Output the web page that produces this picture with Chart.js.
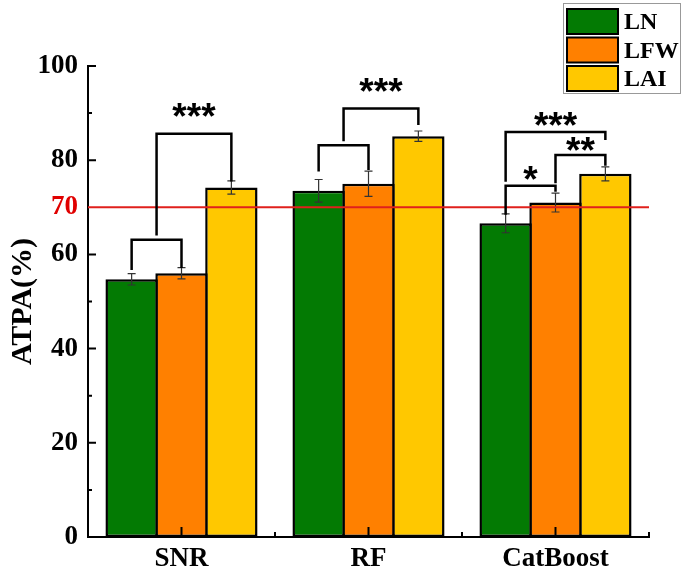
<!DOCTYPE html>
<html>
<head>
<meta charset="utf-8">
<script src="https://cdn.jsdelivr.net/npm/chart.js@4.4.0/dist/chart.umd.min.js"></script>
<style>
body { margin: 0; background: #fff; }
</style>
</head>
<body>
<canvas id="chart" width="685" height="575"></canvas>
<script>
const categories = ['SNR', 'RF', 'CatBoost'];
const seriesNames = ['LN', 'LFW', 'LAI'];
const seriesColors = ['#037a03', '#ff8000', '#ffc800'];

const lnValues = [54.7, 73.5, 66.6];
const lfwValues = [56.0, 75.0, 71.0];
const laiValues = [74.2, 85.1, 77.1];

const lnErrors = [1.2, 2.4, 2.0];
const lfwErrors = [1.2, 2.7, 2.0];
const laiErrors = [1.4, 1.1, 1.5];

const yTickLabels = [0, 20, 40, 60, 70, 80, 100];
const yMinorTicks = [10, 30, 50, 90];
const threshold = 70;

// significance brackets: category, bar a -> bar b (fractional = between bars),
// height of the bar line, where each leg stops, label and its height
const brackets = [
    { cat: 0, a: 0, b: 1, top: 63.1, endA: 56.7, endB: 57.1, label: '', labelY: 0 },
    { cat: 0, a: 0.5, b: 2, top: 85.6, endA: 64.0, endB: 75.5, label: '***', labelY: 90.4 },
    { cat: 1, a: 0, b: 1, top: 83.2, endA: 77.6, endB: 77.9, label: '', labelY: 0 },
    { cat: 1, a: 0.5, b: 2, top: 91.0, endA: 84.0, endB: 87.5, label: '***', labelY: 95.8 },
    { cat: 2, a: 0, b: 1, top: 74.6, endA: 68.4, endB: 73.3, label: '*', labelY: 77.2 },
    { cat: 2, a: 1, b: 2, top: 81.1, endA: 75.1, endB: 78.8, label: '**', labelY: 83.2 },
    { cat: 2, a: 0, b: 2, top: 86.0, endA: 75.4, endB: 84.3, label: '***', labelY: 88.5 }
];

const serif = "'Liberation Serif', 'Times New Roman', serif";

function barX(chart, cat, pos) {
    const i = Math.floor(pos);
    const f = pos - i;
    const x0 = chart.getDatasetMeta(i).data[cat].x;
    if (f === 0) return x0;
    const x1 = chart.getDatasetMeta(i + 1).data[cat].x;
    return x0 + (x1 - x0) * f;
}

const extras = {
    id: 'extras',
    afterDatasetsDraw(chart) {
        const ctx = chart.ctx;
        const x = chart.scales.x;
        const y = chart.scales.y;
        const area = chart.chartArea;

        // error bars
        ctx.save();
        ctx.strokeStyle = '#333';
        ctx.lineWidth = 1.2;
        chart.data.datasets.forEach((ds, di) => {
            chart.getDatasetMeta(di).data.forEach((bar, ci) => {
                const v = ds.data[ci], e = ds.errors[ci];
                const yt = y.getPixelForValue(v + e), yb = y.getPixelForValue(v - e);
                ctx.beginPath();
                ctx.moveTo(bar.x, yt); ctx.lineTo(bar.x, yb);
                ctx.moveTo(bar.x - 4, yt); ctx.lineTo(bar.x + 4, yt);
                ctx.moveTo(bar.x - 4, yb); ctx.lineTo(bar.x + 4, yb);
                ctx.stroke();
            });
        });
        ctx.restore();

        // threshold line
        ctx.save();
        ctx.strokeStyle = '#e0201c';
        ctx.lineWidth = 2;
        const yr = y.getPixelForValue(threshold);
        ctx.beginPath();
        ctx.moveTo(area.left, yr); ctx.lineTo(area.right, yr);
        ctx.stroke();
        ctx.restore();

        // inward tick marks
        ctx.save();
        ctx.strokeStyle = '#000';
        ctx.lineWidth = 2;
        ctx.beginPath();
        yTickLabels.filter(v => v !== threshold).forEach(v => {
            const p = y.getPixelForValue(v);
            ctx.moveTo(area.left, p); ctx.lineTo(area.left + 8, p);
        });
        yMinorTicks.forEach(v => {
            const p = y.getPixelForValue(v);
            ctx.moveTo(area.left, p); ctx.lineTo(area.left + 4, p);
        });
        const w = (x.right - x.left) / categories.length;
        categories.forEach((c, i) => {
            const p = x.getPixelForValue(i);
            ctx.moveTo(p, area.bottom); ctx.lineTo(p, area.bottom - 10);
            const q = x.left + w * (i + 1);
            ctx.moveTo(q, area.bottom); ctx.lineTo(q, area.bottom - 5);
        });
        ctx.stroke();
        ctx.restore();

        // significance brackets
        ctx.save();
        ctx.strokeStyle = '#000';
        ctx.lineWidth = 2.5;
        ctx.lineJoin = 'miter';
        ctx.fillStyle = '#000';
        ctx.font = "bold 37px 'Liberation Sans', Arial, sans-serif";
        ctx.textAlign = 'center';
        ctx.textBaseline = 'middle';
        brackets.forEach(b => {
            const xa = barX(chart, b.cat, b.a), xb = barX(chart, b.cat, b.b);
            ctx.beginPath();
            ctx.moveTo(xa, y.getPixelForValue(b.endA));
            ctx.lineTo(xa, y.getPixelForValue(b.top));
            ctx.lineTo(xb, y.getPixelForValue(b.top));
            ctx.lineTo(xb, y.getPixelForValue(b.endB));
            ctx.stroke();
            if (b.label) {
                ctx.fillText(b.label, (xa + xb) / 2, y.getPixelForValue(b.labelY) + 8);
            }
        });
        ctx.restore();

        // legend box
        ctx.save();
        ctx.strokeStyle = '#999';
        ctx.lineWidth = 1;
        ctx.strokeRect(563.5, 3.5, 117, 90);
        ctx.font = 'bold 24px ' + serif;
        ctx.textBaseline = 'middle';
        ctx.textAlign = 'left';
        chart.data.datasets.forEach((ds, i) => {
            const top = 9 + i * 28.5;
            ctx.fillStyle = ds.backgroundColor;
            ctx.fillRect(567, top, 51, 25);
            ctx.strokeStyle = '#000';
            ctx.lineWidth = 2;
            ctx.strokeRect(567, top, 51, 25);
            ctx.fillStyle = '#000';
            ctx.fillText(ds.label, 624, top + 14);
        });
        ctx.restore();
    }
};

const valueLists = [lnValues, lfwValues, laiValues];
const errorLists = [lnErrors, lfwErrors, laiErrors];

new Chart(document.getElementById('chart'), {
    type: 'bar',
    data: {
        labels: categories,
        datasets: seriesNames.map((name, i) => ({
            label: name,
            data: valueLists[i],
            errors: errorLists[i],
            backgroundColor: seriesColors[i],
            borderColor: '#000',
            borderWidth: 2.5,
            borderSkipped: false,
            barPercentage: 1.05,
            categoryPercentage: 0.8
        }))
    },
    options: {
        responsive: false,
        animation: false,
        layout: { padding: { top: 66, right: 36, left: 5, bottom: 0 } },
        plugins: {
            legend: { display: false },
            tooltip: { enabled: false }
        },
        scales: {
            x: {
                offset: true,
                grid: { display: false, drawTicks: false },
                border: { color: '#000', width: 2 },
                ticks: {
                    color: '#000',
                    padding: 6,
                    font: { family: serif, size: 27, weight: 'bold' }
                },
                afterFit: s => { s.height = 38; }
            },
            y: {
                min: 0,
                max: 100,
                afterBuildTicks: s => { s.ticks = yTickLabels.map(v => ({ value: v })); },
                grid: { display: false, drawTicks: false },
                border: { color: '#000', width: 2 },
                ticks: {
                    padding: 10,
                    color: c => c.tick && c.tick.value === threshold ? '#e00000' : '#000',
                    font: { family: serif, size: 27, weight: 'bold' }
                },
                title: {
                    display: true,
                    text: 'ATPA(%)',
                    color: '#000',
                    padding: 0,
                    font: { family: serif, size: 30, weight: 'bold' }
                },
                afterFit: s => { s.width = 83; }
            }
        }
    },
    plugins: [extras]
});
</script>
</body>
</html>
